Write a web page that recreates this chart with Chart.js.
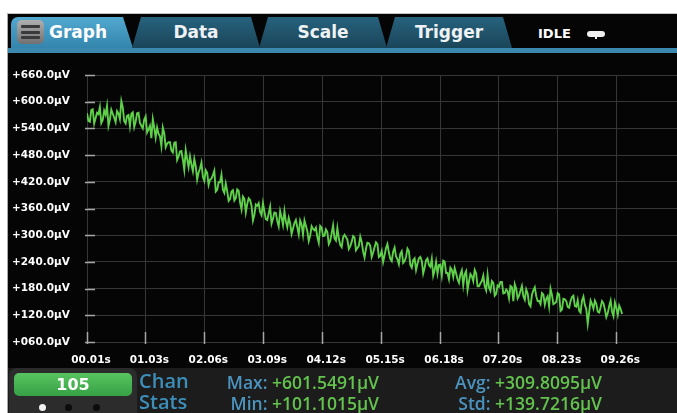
<!DOCTYPE html>
<html>
<head>
<meta charset="utf-8">
<script src="https://cdn.jsdelivr.net/npm/chart.js@4.4.1/dist/chart.umd.min.js"></script>
<style>
  html, body { margin: 0; padding: 0; background: #fff; }
  body { width: 677px; height: 413px; overflow: hidden; position: relative; font-family: "DejaVu Sans", sans-serif; }
  #screen { position: absolute; left: 7px; top: 13px; width: 670px; height: 400px; background: #050505;
            border-left: 1px solid #a8a8a8; border-top: 1px solid #c4c4c4; box-sizing: border-box; }
  .tab { position: absolute; top: 17px; height: 31px; line-height: 31px; color: #eef2f4; font-weight: bold;
         font-size: 17px; text-align: center; background: linear-gradient(#27627d, #1a4559); }
  #tabGraph { left: 11px; width: 122px; text-align: left; padding-left: 38px; box-sizing: border-box;
              background: linear-gradient(#52a9d0, #3385ad); border-radius: 7px 0 0 0;
              clip-path: polygon(0 0, 112px 0, 122px 100%, 0 100%); color: #fff; }
  #tabData { left: 132px; width: 128px; clip-path: polygon(9px 0, 119px 0, 128px 100%, 0 100%); }
  #tabScale { left: 259px; width: 128px; clip-path: polygon(9px 0, 119px 0, 128px 100%, 0 100%); }
  #tabTrigger { left: 386px; width: 126px; clip-path: polygon(9px 0, 117px 0, 126px 100%, 0 100%); }
  #menu { position: absolute; left: 17px; top: 20px; width: 27px; height: 24px; border-radius: 5px;
          background: linear-gradient(#b0b0b0, #707070); }
  #menu i { position: absolute; left: 4px; width: 19px; height: 3px; background: #3a3a3a; border-radius: 1px; }
  #tabline { position: absolute; left: 8px; top: 48px; width: 669px; height: 5px; background: #3a88ad; }
  #idle { position: absolute; left: 538px; top: 26px; font-size: 13px; font-weight: bold; color: #fff; }
  #pin { position: absolute; left: 587px; top: 31px; width: 18px; height: 6px; border-radius: 3px; background: #eee; }
  #pinStem { position: absolute; left: 595px; top: 36px; width: 2px; height: 3px; background: #eee; }
  #chartBox { position: absolute; left: 8px; top: 53px; width: 669px; height: 315px; }
  #statsBar { position: absolute; left: 8px; top: 368px; width: 669px; height: 45px; background: #1c1c1c; }
  #panel { position: absolute; left: 9px; top: 368px; width: 128px; height: 45px; border-radius: 8px 8px 0 0; background: #2c2c2c; }
  #chanBtn { position: absolute; left: 14px; top: 373px; width: 118px; height: 23px; border-radius: 5px;
             background: linear-gradient(#58c460, #36a145); color: #fff; font-weight: bold; font-size: 16px;
             line-height: 23px; text-align: center; }
  .dot { position: absolute; top: 404px; width: 7px; height: 7px; border-radius: 50%; background: #0c0c0c; }
  .chan { position: absolute; left: 139px; font-family: "Open Sans", sans-serif; font-weight: 600; font-size: 20px;
          color: #3d8fba; line-height: 20px; }
  .stat { position: absolute; font-family: "Open Sans", sans-serif; font-weight: 600; font-size: 17.5px; line-height: 20px;
          text-align: right; color: #4b94bf; white-space: nowrap; }
  .stat b { font-weight: 600; color: #63c34e; }
</style>
</head>
<body>
<div id="screen"></div>
<div class="tab" id="tabGraph">Graph</div>
<div id="menu"><i style="top:5px"></i><i style="top:10.5px"></i><i style="top:16px"></i></div>
<div class="tab" id="tabData">Data</div>
<div class="tab" id="tabScale">Scale</div>
<div class="tab" id="tabTrigger">Trigger</div>
<div id="idle">IDLE</div>
<div id="pin"></div><div id="pinStem"></div>
<div id="tabline"></div>

<div id="chartBox"><canvas id="graph" width="669" height="315"></canvas></div>

<div id="statsBar"></div>
<div id="panel"></div>
<div id="chanBtn">105</div>
<div class="dot" style="left:39px;background:#f2f2f2"></div>
<div class="dot" style="left:65px"></div>
<div class="dot" style="left:93px"></div>
<div class="chan" style="top:371px">Chan</div>
<div class="chan" style="top:392px">Stats</div>
<div class="stat" style="right:298px;top:372px">Max: <b>+601.5491µV</b></div>
<div class="stat" style="right:298px;top:393px">Min: <b>+101.1015µV</b></div>
<div class="stat" style="right:75px;top:372px">Avg: <b>+309.8095µV</b></div>
<div class="stat" style="right:75px;top:393px">Std: <b>+139.7216µV</b></div>

<script>
// sample timing of the buffer (s)
const T0 = 0.01;
const DT = 0.025;

// readings in µV
const VOLTAGE_UV = [
  574, 557, 555, 581, 583, 551, 563, 575, 572, 588, 552, 559, 580, 571, 591, 546, 560, 582, 573, 564,
  554, 579, 574, 561, 601.5, 587, 556, 551, 568, 570, 545, 573, 576, 543, 555, 574, 575, 552, 546, 540,
  560, 567, 531, 538, 546, 518, 561, 542, 519, 542, 528, 522, 500, 542, 529, 498, 506, 509, 509, 490,
  486, 508, 509, 469, 477, 488, 489, 470, 447, 491, 471, 453, 477, 459, 444, 471, 455, 425, 441, 450,
  463, 431, 422, 446, 440, 413, 425, 427, 435, 445, 398, 402, 419, 419, 436, 402, 395, 416, 399, 377,
  381, 398, 401, 378, 383, 403, 400, 374, 358, 387, 382, 351, 370, 383, 379, 366, 333, 346, 369, 366,
  372, 352, 345, 372, 353, 336, 334, 349, 364, 326, 337, 351, 350, 332, 320, 354, 340, 323, 354, 331,
  318, 339, 327, 303, 315, 327, 334, 318, 302, 333, 324, 301, 333, 321, 309, 287, 299, 320, 314, 311,
  317, 296, 283, 321, 317, 298, 299, 313, 307, 280, 287, 304, 322, 293, 288, 316, 293, 278, 273, 295,
  301, 296, 290, 269, 275, 285, 298, 295, 266, 271, 276, 297, 285, 263, 250, 270, 283, 282, 276, 251,
  261, 273, 284, 280, 251, 254, 265, 240, 255, 271, 280, 261, 247, 242, 263, 272, 252, 246, 235, 258,
  264, 238, 242, 251, 270, 264, 233, 227, 244, 248, 222, 236, 248, 251, 242, 214, 227, 244, 248, 233,
  229, 247, 209, 221, 240, 214, 233, 234, 210, 243, 241, 215, 215, 201, 227, 222, 206, 226, 214, 201,
  193, 212, 221, 188, 212, 219, 177, 196, 213, 208, 197, 222, 214, 185, 185, 192, 197, 209, 185, 176,
  211, 182, 175, 197, 193, 164, 168, 187, 184, 195, 195, 169, 170, 178, 174, 158, 186, 183, 152, 190,
  180, 158, 164, 175, 186, 163, 155, 178, 169, 145, 140, 166, 176, 183, 163, 152, 152, 145, 170, 167,
  144, 157, 163, 140, 180, 166, 145, 147, 150, 170, 167, 130, 133, 157, 156, 152, 139, 137, 152, 161,
  164, 141, 139, 154, 130, 126, 153, 162, 143, 134, 101.1, 127, 153, 145, 135, 153, 146, 128, 126, 138,
  152, 147, 133, 116, 125, 141, 153, 128, 118, 149, 137, 121, 142, 134, 123
];

const X_TICKS = [0.01, 1.03, 2.06, 3.09, 4.12, 5.15, 6.18, 7.20, 8.23, 9.26];
const X_TICK_LABELS = ['00.01s', '01.03s', '02.06s', '03.09s', '04.12s', '05.15s', '06.18s', '07.20s', '08.23s', '09.26s'];

const Y_TICKS = [60, 120, 180, 240, 300, 360, 420, 480, 540, 600, 660];
const Y_TICK_LABELS = ['+060.0µV', '+120.0µV', '+180.0µV', '+240.0µV', '+300.0µV', '+360.0µV',
                       '+420.0µV', '+480.0µV', '+540.0µV', '+600.0µV', '+660.0µV'];

const X_MIN = 0.01;
const X_MAX = 10.32;

// short bright tick marks on the axes
const tickMarks = {
    id: 'tickMarks',
    afterDraw(chart) {
        const { ctx, chartArea, scales } = chart;
        ctx.save();
        ctx.strokeStyle = '#a6a6a6';
        ctx.lineWidth = 1.5;
        ctx.beginPath();
        scales.y.ticks.forEach(t => {
            const py = Math.round(scales.y.getPixelForValue(t.value)) + 0.5;
            ctx.moveTo(chartArea.left - 2, py);
            ctx.lineTo(chartArea.left + 8, py);
        });
        scales.x.ticks.forEach(t => {
            const px = Math.round(scales.x.getPixelForValue(t.value)) + 0.5;
            ctx.moveTo(px, chartArea.bottom - 10);
            ctx.lineTo(px, chartArea.bottom + 2);
        });
        ctx.stroke();
        ctx.restore();
    }
};

const points = VOLTAGE_UV.map((v, i) => ({ x: T0 + i * DT, y: v }));

const ctx = document.getElementById('graph').getContext('2d');
new Chart(ctx, {
    type: 'line',
    data: {
        datasets: [{
            data: points,
            borderColor: '#5fd04a',
            borderWidth: 1.9,
            pointRadius: 0,
            tension: 0,
            fill: false
        }]
    },
    options: {
        responsive: false,
        animation: false,
        devicePixelRatio: 1,
        layout: { padding: { left: 4, top: 22, right: 0, bottom: 0 } },
        plugins: {
            legend: { display: false },
            tooltip: { enabled: false }
        },
        scales: {
            x: {
                type: 'linear',
                min: X_MIN,
                max: X_MAX,
                afterBuildTicks: s => { s.ticks = X_TICKS.map(v => ({ value: v })); },
                afterFit: s => { s.height = 26; },
                grid: { color: '#363636', drawTicks: false },
                border: { display: false },
                ticks: {
                    callback: (v, i) => X_TICK_LABELS[i],
                    autoSkip: false,
                    maxRotation: 0,
                    padding: 12,
                    labelOffset: 4,
                    color: '#ffffff',
                    font: { family: 'DejaVu Sans', weight: 'bold', size: 10.5 }
                }
            },
            y: {
                min: 60,
                max: 660,
                afterBuildTicks: s => { s.ticks = Y_TICKS.map(v => ({ value: v })); },
                afterFit: s => { s.width = 75; },
                grid: { color: '#363636', drawTicks: false },
                border: { display: false },
                ticks: {
                    callback: (v, i) => Y_TICK_LABELS[i],
                    crossAlign: 'far',
                    color: '#ffffff',
                    font: { family: 'DejaVu Sans', weight: 'bold', size: 10.5 }
                }
            }
        }
    },
    plugins: [tickMarks]
});
</script>
</body>
</html>
